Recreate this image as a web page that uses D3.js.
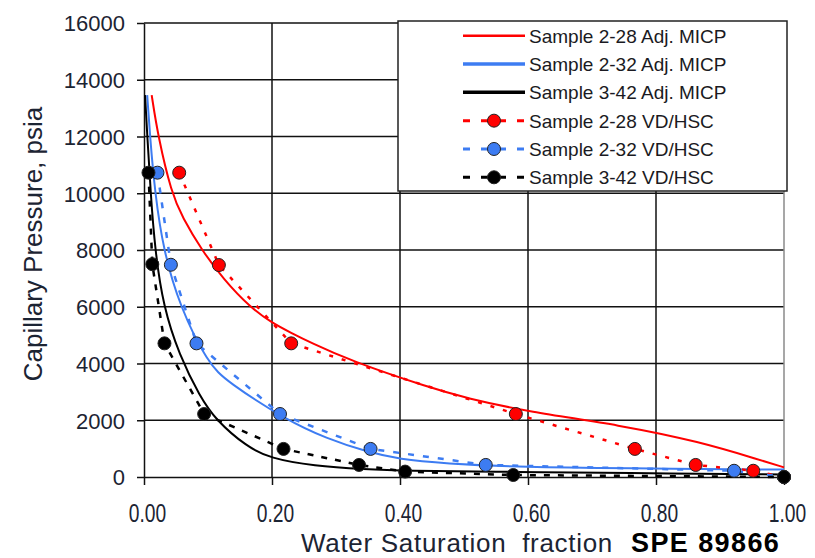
<!DOCTYPE html>
<html>
<head>
<meta charset="utf-8">
<script src="https://cdn.jsdelivr.net/npm/d3@7"></script>
<style>
  html, body { margin: 0; padding: 0; background: #fff; overflow: hidden; }
  svg { display: block; font-family: 'Liberation Sans', Arial, sans-serif; }
</style>
</head>
<body>
<svg id="graph"></svg>
<script>
// Adj. MICP curves [Sw, Pc psia]
const micp228 = [[0.012, 13460], [0.022, 12000], [0.043, 10000], [0.06, 9150], [0.09, 8000], [0.125, 6950], [0.165, 6000], [0.2, 5430], [0.23, 5080], [0.26, 4740], [0.322, 4100], [0.447, 3140], [0.504, 2780], [0.6, 2300], [0.744, 1830], [0.869, 1240], [0.9625, 600], [1.0, 340]]
const micp232 = [[0.005, 13460], [0.0094, 12000], [0.0172, 10000], [0.0302, 8000], [0.056, 6000], [0.1, 4000], [0.13, 3360], [0.223, 2000], [0.285, 1360], [0.348, 890], [0.4, 620], [0.467, 480], [0.598, 340], [0.744, 310], [1.0, 260]]
const micp342 = [[0.0016, 13460], [0.0052, 12000], [0.0104, 10000], [0.0172, 8000], [0.0302, 6000], [0.055, 4300], [0.0875, 2830], [0.1125, 2000], [0.1605, 1070], [0.197, 660], [0.2645, 390], [0.348, 270], [0.4, 220], [0.5875, 180], [0.744, 140], [1.0, 90]]

// VD/HSC points
const vd228 = [[0.055, 10725], [0.117, 7470], [0.23, 4710], [0.581, 2220], [0.767, 990], [0.862, 425], [0.952, 220], [1.0, 0]]
const vd232 = [[0.021, 10725], [0.042, 7480], [0.082, 4710], [0.2125, 2220], [0.354, 990], [0.534, 425], [0.922, 220], [1.0, 0]]
const vd342 = [[0.007, 10725], [0.013, 7500], [0.032, 4710], [0.094, 2220], [0.218, 990], [0.336, 425], [0.408, 190], [0.577, 70], [1.0, 0]]

const xTicks = [0, 0.2, 0.4, 0.6, 0.8, 1.0]
const yTicks = [0, 2000, 4000, 6000, 8000, 10000, 12000, 14000, 16000]

const seriesNames = ['Sample 2-28 Adj. MICP', 'Sample 2-32 Adj. MICP', 'Sample 3-42 Adj. MICP', 'Sample 2-28 VD/HSC', 'Sample 2-32 VD/HSC', 'Sample 3-42 VD/HSC']

const RED = '#ff0000'
const BLUE = '#3d7cf2'
const BLACK = '#000000'

const getChartConfig = () => {
  const width = 815
  const height = 558
  const margin = { top: 23, left: 144, bottom: 81, right: 31 }
  const container = d3.select('#graph').attr('width', width).attr('height', height)
  return { width, height, margin, container }
}

const getChartScale = (config) => {
  const { width, height, margin } = config
  const xScale = d3.scaleLinear().domain([0, 1]).range([margin.left, width - margin.right])
  const yScale = d3.scaleLinear().domain([0, 16000]).range([height - margin.bottom, margin.top])
  return { xScale, yScale }
}

const drawGrid = (scales, config) => {
  const { xScale, yScale } = scales
  const { container } = config
  const g = container.append('g').attr('id', 'grid')

  g.selectAll('line.h')
    .data(yTicks.filter((d) => d > 0))
    .enter()
    .append('line')
    .attr('x1', xScale(0))
    .attr('x2', xScale(1))
    .attr('y1', (d) => yScale(d))
    .attr('y2', (d) => yScale(d))
    .attr('stroke', '#111')
    .attr('stroke-width', 1.5)

  g.selectAll('line.v')
    .data(xTicks.filter((d) => d > 0))
    .enter()
    .append('line')
    .attr('x1', (d) => xScale(d))
    .attr('x2', (d) => xScale(d))
    .attr('y1', yScale(16000))
    .attr('y2', yScale(0))
    .attr('stroke', (d) => (d === 1 ? '#8a8a8a' : '#111'))
    .attr('stroke-width', 1.5)
}

const drawAxes = (scales, config) => {
  const { xScale, yScale } = scales
  const { container } = config

  const axisX = d3.axisBottom(xScale).tickValues(xTicks).tickSize(8).tickSizeOuter(0).tickFormat(d3.format('.2f'))
  const axisY = d3.axisLeft(yScale).tickValues(yTicks).tickSize(7).tickSizeOuter(0).tickFormat((d) => d)

  const gx = container
    .append('g')
    .attr('id', 'axisX')
    .attr('transform', `translate(0,${yScale(0)})`)
    .call(axisX)
  gx.select('.domain').attr('stroke', '#111').attr('stroke-width', 1.5)
  gx.selectAll('.tick line').attr('stroke', '#111').attr('stroke-width', 1.5)
  gx.selectAll('.tick text')
    .attr('x', 4)
    .attr('y', 45)
    .attr('dy', null)
    .attr('transform', 'scale(0.74,1)')
    .style('font-size', '26px')
    .style('font-family', "'Liberation Sans', Arial, sans-serif")
    .attr('fill', '#1c2433')

  const gy = container
    .append('g')
    .attr('id', 'axisY')
    .attr('transform', `translate(${xScale(0)},0)`)
    .call(axisY)
  gy.select('.domain').attr('stroke', '#111').attr('stroke-width', 1.5)
  gy.selectAll('.tick line').attr('stroke', '#111').attr('stroke-width', 1.5)
  gy.selectAll('.tick text')
    .attr('x', -19)
    .attr('dy', '0.36em')
    .style('font-size', '22px')
    .style('font-family', "'Liberation Sans', Arial, sans-serif")
    .attr('fill', '#1c2433')

  container
    .append('text')
    .attr('transform', 'translate(42,244) rotate(-90)')
    .attr('text-anchor', 'middle')
    .style('font-size', '26px')
    .attr('fill', '#1c2433')
    .text('Capillary Pressure, psia')

  container
    .append('text')
    .attr('x', 301)
    .attr('y', 552)
    .style('font-size', '26px')
    .style('letter-spacing', '0.7px')
    .style('white-space', 'pre')
    .attr('fill', '#1c2433')
    .text('Water Saturation  fraction')

  container
    .append('text')
    .attr('x', 631)
    .attr('y', 552)
    .style('font-size', '27px')
    .style('font-weight', 'bold')
    .style('letter-spacing', '1.4px')
    .attr('fill', '#000')
    .text('SPE 89866')
}

const drawLines = (scales, config) => {
  const { xScale, yScale } = scales
  const { container } = config

  const curve = d3
    .line()
    .x((d) => xScale(d[0]))
    .y((d) => yScale(d[1]))
    .curve(d3.curveBasis)
  const straight = d3
    .line()
    .x((d) => xScale(d[0]))
    .y((d) => yScale(d[1]))

  const micp = [
    { data: micp228, color: RED },
    { data: micp232, color: BLUE },
    { data: micp342, color: BLACK },
  ]
  micp.forEach((s) => {
    container
      .append('path')
      .datum(s.data)
      .attr('fill', 'none')
      .attr('stroke', s.color)
      .attr('stroke-width', 2)
      .attr('d', curve)
  })

  const vd = [
    { data: vd228, color: RED, dash: '4 9' },
    { data: vd232, color: BLUE, dash: '6 9' },
    { data: vd342, color: BLACK, dash: '6 8' },
  ]
  vd.forEach((s) => {
    container
      .append('path')
      .datum(s.data)
      .attr('fill', 'none')
      .attr('stroke', s.color)
      .attr('stroke-width', 2.5)
      .attr('stroke-dasharray', s.dash)
      .attr('d', straight)
  })
  vd.forEach((s) => {
    container
      .append('g')
      .selectAll('circle')
      .data(s.data)
      .enter()
      .append('circle')
      .attr('cx', (d) => xScale(d[0]))
      .attr('cy', (d) => yScale(d[1]))
      .attr('r', 6.5)
      .attr('fill', s.color)
      .attr('stroke', '#222')
      .attr('stroke-width', 1)
  })
}

const drawLegend = (config) => {
  const { container } = config
  const lg = container.append('g').attr('id', 'legend')
  lg.append('rect')
    .attr('x', 398)
    .attr('y', 21)
    .attr('width', 389)
    .attr('height', 170)
    .attr('fill', '#fff')
    .attr('stroke', '#222')
    .attr('stroke-width', 1.5)

  const styles = [
    { color: RED, width: 2.5, dash: null, marker: false },
    { color: BLUE, width: 3.5, dash: null, marker: false },
    { color: BLACK, width: 3.5, dash: null, marker: false },
    { color: RED, width: 3, dash: '7 11', marker: true },
    { color: BLUE, width: 3, dash: '7 11', marker: true },
    { color: BLACK, width: 3, dash: '7 11', marker: true },
  ]
  const rowY = d3.scalePoint().domain(d3.range(6)).range([35.7, 177.3])

  seriesNames.forEach((name, i) => {
    const s = styles[i]
    const y = rowY(i)
    lg.append('line')
      .attr('x1', 463)
      .attr('x2', 525)
      .attr('y1', y)
      .attr('y2', y)
      .attr('stroke', s.color)
      .attr('stroke-width', s.width)
      .attr('stroke-dasharray', s.dash)
    if (s.marker) {
      lg.append('circle')
        .attr('cx', 494)
        .attr('cy', y)
        .attr('r', 6.5)
        .attr('fill', s.color)
        .attr('stroke', '#222')
        .attr('stroke-width', 1)
    }
    lg.append('text')
      .attr('x', 529)
      .attr('y', y)
      .attr('dy', '0.36em')
      .style('font-size', '19px')
      .attr('fill', '#1a1a22')
      .text(name)
  })
}

const config = getChartConfig()
const scales = getChartScale(config)
drawGrid(scales, config)
drawAxes(scales, config)
drawLines(scales, config)
drawLegend(config)
</script>
</body>
</html>
